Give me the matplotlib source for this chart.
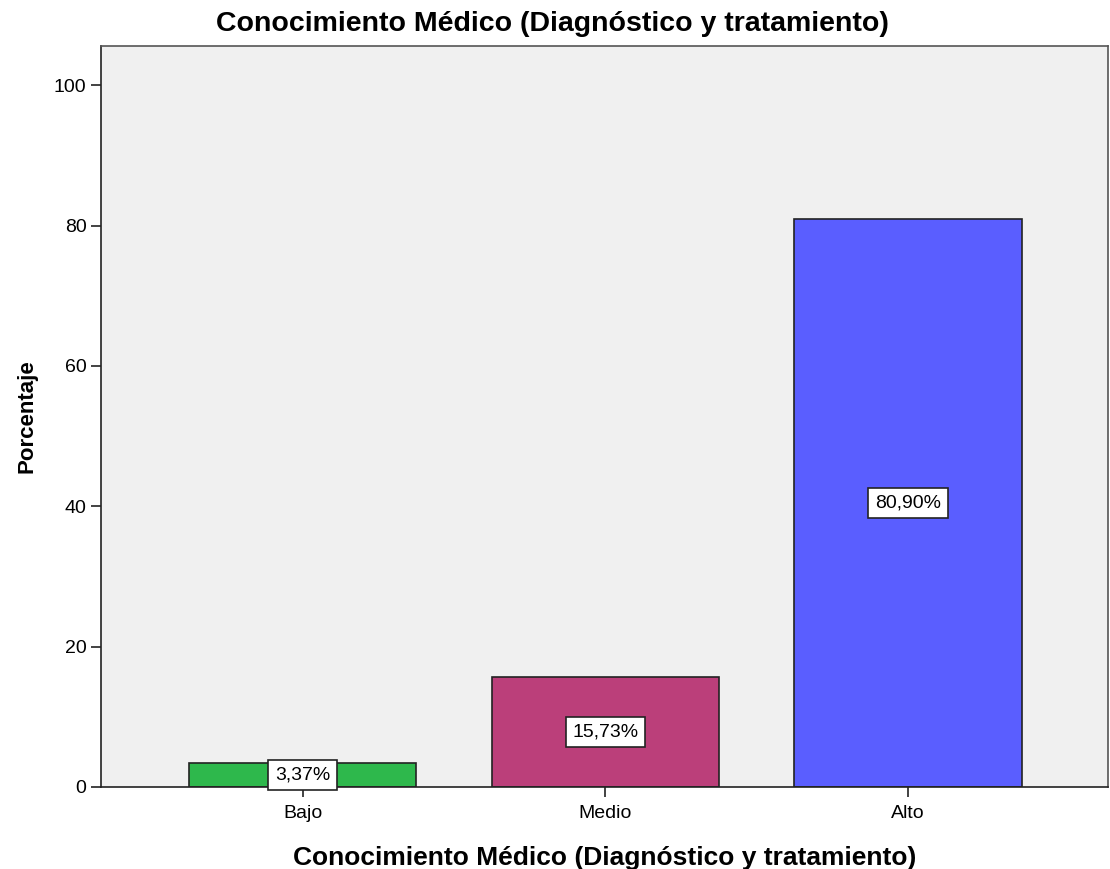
import matplotlib.pyplot as plt

plt.rcParams['font.family'] = ['Liberation Sans', 'DejaVu Sans']

# --- Data ---
categorias = ['Bajo', 'Medio', 'Alto']
porcentajes = [3.37, 15.73, 80.90]
etiquetas = ['3,37%', '15,73%', '80,90%']
colores = ['#2EB84C', '#BB3F7A', '#5A5EFF']
titulo = 'Conocimiento Médico (Diagnóstico y tratamiento)'

fig = plt.figure(figsize=(11.1, 8.69), dpi=100)
ax = fig.add_axes([0.091, 0.0944, 0.907, 0.8526])
ax.set_facecolor('#F0F0F0')

x = range(len(categorias))
ax.bar(x, porcentajes, width=0.75, color=colores, edgecolor='#222222', linewidth=1.2)

# value labels in boxes at bar centre
for xi, v, lab in zip(x, porcentajes, etiquetas):
    ax.text(xi, v / 2, lab, ha='center', va='center', fontsize=14,
            bbox=dict(boxstyle='square,pad=0.34', facecolor='white',
                      edgecolor='#222222', linewidth=1.2))

ax.set_xlim(-0.666, 2.66)
ax.set_ylim(0, 105.6)
ax.set_xticks(list(x))
ax.set_xticklabels(categorias)
ax.set_yticks([0, 20, 40, 60, 80, 100])
ax.tick_params(axis='both', direction='out', length=7, width=1.2,
               labelsize=14, color='#222222')
ax.tick_params(axis='x', pad=6)

for s in ax.spines.values():
    s.set_color('#555555')
    s.set_linewidth(1.2)
ax.spines['left'].set_color('#222222')
ax.spines['bottom'].set_color('#222222')

ax.set_ylabel('Porcentaje', fontsize=16, fontweight='bold', labelpad=12)
ax.set_xlabel(titulo, fontsize=19, fontweight='bold', labelpad=17)
fig.suptitle(titulo, fontsize=20.5, fontweight='bold', y=0.987, x=0.498)

fig.savefig('out.png', dpi=100)
